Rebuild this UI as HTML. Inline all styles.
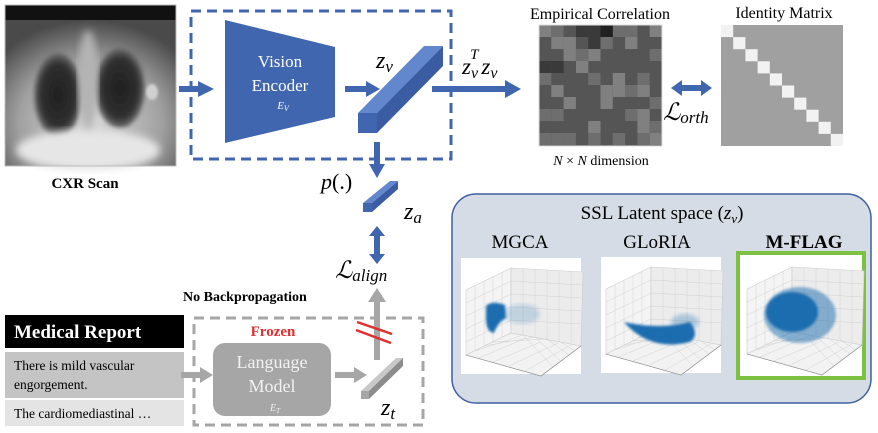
<!DOCTYPE html>
<html><head><meta charset="utf-8"><style>
html,body{margin:0;padding:0;background:#fff;}
svg{display:block;}
text{font-family:"Liberation Serif",serif;}
.m{font-style:italic;}
</style></head><body>
<svg width="878" height="433" viewBox="0 0 878 433" xmlns="http://www.w3.org/2000/svg">
<defs>
<radialGradient id="body" cx="50%" cy="70%" r="70%"><stop offset="0" stop-color="#dcdcdc"/><stop offset="0.6" stop-color="#a0a0a0"/><stop offset="1" stop-color="#4a4a4a"/></radialGradient>
<radialGradient id="lung" cx="50%" cy="50%" r="50%"><stop offset="0" stop-color="#202020"/><stop offset="0.75" stop-color="#303030"/><stop offset="1" stop-color="#707070"/></radialGradient>
<filter id="bl"><feGaussianBlur stdDeviation="2"/></filter>
<filter id="bl3"><feGaussianBlur stdDeviation="4"/></filter>
<filter id="bl2"><feGaussianBlur stdDeviation="1.2"/></filter>
<g id="axes">
<rect x="0" y="0" width="120" height="116" fill="#fff"/>
<polygon points="5,32 50,10 50,75 5,97" fill="#f4f4f4" stroke="#ccc" stroke-width="0.6"/>
<polygon points="50,10 122,14 120,88 50,75" fill="#ececec" stroke="#ccc" stroke-width="0.6"/>
<polygon points="5,97 50,75 120,88 80,118" fill="#f2f2f2" stroke="#ccc" stroke-width="0.6"/>
<g stroke="#d2d2d2" stroke-width="0.5" fill="none">
<path d="M5,45 L50,23 L122,27 M5,58 L50,36 L121,40 M5,71 L50,49 L121,53 M5,84 L50,62 L121,66"/>
<path d="M14,28 V93 M23,23 V88 M32,19 V84 M41,14 V80 M62,11 V77 M74,11 V79 M86,12 V81 M98,13 V83 M110,13 V85"/>
<path d="M14,93 L62,77 M23,88 L74,79 M32,84 L86,81 M62,77 L92,109 M74,79 L100,103 M86,81 L108,97 M98,83 L114,93 M18,100 L65,80 M32,104 L80,84 M48,108 L97,85 M64,113 L110,87"/>
</g>
<path d="M5,97 L80,118 L120,88" stroke="#888" stroke-width="0.6" fill="none"/>
</g>
</defs>

<!-- CXR -->
<rect x="5" y="5" width="171" height="161" fill="#111"/>
<rect x="5" y="20" width="171" height="146" fill="url(#body)"/>
<ellipse cx="58" cy="95" rx="24" ry="42" fill="url(#lung)" filter="url(#bl)"/>
<ellipse cx="120" cy="88" rx="25" ry="40" fill="url(#lung)" filter="url(#bl)"/>
<ellipse cx="88" cy="150" rx="72" ry="20" fill="#e6e6e6" filter="url(#bl3)"/>
<ellipse cx="88" cy="80" rx="10" ry="50" fill="#b4b4b4" filter="url(#bl3)"/>
<ellipse cx="152" cy="92" rx="6" ry="8" fill="#d0d0d0" filter="url(#bl2)"/>
<rect x="5" y="5" width="171" height="161" fill="none" stroke="#bbb" stroke-width="1"/>
<text x="85" y="188" font-size="15" font-weight="bold" text-anchor="middle">CXR Scan</text>

<!-- vision dashed box -->
<rect x="191" y="11" width="260" height="148" fill="none" stroke="#4166b0" stroke-width="3" stroke-dasharray="10,6"/>
<line x1="179" y1="89" x2="200" y2="89" stroke="#4166b0" stroke-width="6"/>
<polygon points="198,81 214,89 198,97" fill="#4166b0"/>
<polygon points="225,20 335,47 335,117 225,143" fill="#4166b0"/>
<text x="280" y="67" font-size="17" fill="#fff" text-anchor="middle">Vision</text>
<text x="280" y="91" font-size="17" fill="#fff" text-anchor="middle">Encoder</text>
<text x="283" y="109" font-size="11" fill="#fff" class="m" text-anchor="middle">E<tspan font-size="8" dy="2">V</tspan></text>
<line x1="345" y1="89" x2="368" y2="89" stroke="#4166b0" stroke-width="6"/>
<polygon points="366,81 380,89 366,97" fill="#4166b0"/>
<!-- z_v bar -->
<polygon points="358,113 424,46 443,46 377,113" fill="#6387cc"/>
<polygon points="377,113 443,46 443,66 377,133" fill="#3a5ca2"/>
<rect x="358" y="113" width="19" height="20" fill="#4166b0"/>
<text x="376" y="68" font-size="24" class="m">z<tspan font-size="17" dy="4">v</tspan></text>
<line x1="432" y1="89" x2="507" y2="89" stroke="#4166b0" stroke-width="6"/>
<polygon points="505,80 521,89 505,98" fill="#4166b0"/>
<text x="462" y="74" font-size="23" class="m">z<tspan font-size="16" dy="4">v</tspan><tspan font-size="15" dx="-8" dy="-19">T</tspan><tspan font-size="23" dx="3" dy="15">z</tspan><tspan font-size="16" dy="4">v</tspan></text>

<!-- p(.) and z_a -->
<line x1="377" y1="142" x2="377" y2="166" stroke="#4166b0" stroke-width="6"/>
<polygon points="369,164 377,178 385,164" fill="#4166b0"/>
<text x="321" y="189" font-size="22" class="m">p<tspan font-style="normal">(.)</tspan></text>
<polygon points="363,203 390,181 398,181 372,203" fill="#6387cc"/>
<polygon points="372,203 398,181 398,189 372,212" fill="#3a5ca2"/>
<rect x="363" y="203" width="9" height="9" fill="#4166b0"/>
<text x="404" y="219" font-size="24" class="m">z<tspan font-size="17" dy="4">a</tspan></text>
<line x1="377" y1="234" x2="377" y2="256" stroke="#4166b0" stroke-width="6"/>
<polygon points="369,236 377,226 385,236" fill="#4166b0"/>
<polygon points="369,254 377,264 385,254" fill="#4166b0"/>
<text x="335" y="278" font-size="24" class="m">ℒ<tspan font-size="17" dy="3">align</tspan></text>

<!-- no backprop -->
<text x="183" y="301" font-size="14" font-weight="bold">No Backpropagation</text>
<line x1="377" y1="360" x2="377" y2="300" stroke="#a6a6a6" stroke-width="6"/>
<polygon points="368,302 377,288 386,302" fill="#a6a6a6"/>
<line x1="357" y1="322" x2="392" y2="334" stroke="#e03030" stroke-width="2.5"/>
<line x1="356" y1="330" x2="391" y2="343" stroke="#e03030" stroke-width="2.5"/>

<!-- frozen box -->
<rect x="194" y="318" width="229" height="107" fill="none" stroke="#a6a6a6" stroke-width="3" stroke-dasharray="10,6"/>
<text x="273" y="336" font-size="15" font-weight="bold" fill="#e03030" text-anchor="middle">Frozen</text>
<rect x="213" y="343" width="118" height="73" rx="12" fill="#a6a6a6"/>
<text x="272" y="368" font-size="18" fill="#f2f2f2" text-anchor="middle">Language</text>
<text x="272" y="392" font-size="18" fill="#f2f2f2" text-anchor="middle">Model</text>
<text x="275" y="411" font-size="10" fill="#f2f2f2" class="m" text-anchor="middle">E<tspan font-size="7" dy="2">T</tspan></text>
<line x1="335" y1="375" x2="356" y2="375" stroke="#a6a6a6" stroke-width="6"/>
<polygon points="354,367 367,375 354,383" fill="#a6a6a6"/>
<polygon points="361,391 396,358 403,358 369,391" fill="#c8c8c8"/>
<polygon points="369,391 403,358 403,366 369,399" fill="#8c8c8c"/>
<rect x="361" y="391" width="8" height="8" fill="#a6a6a6"/>
<text x="381" y="415" font-size="24" class="m">z<tspan font-size="17" dy="4">t</tspan></text>

<!-- medical report -->
<rect x="5" y="315" width="179" height="33" fill="#000"/>
<text x="14" y="338" font-size="19" font-weight="bold" fill="#fff">Medical Report</text>
<rect x="5" y="352" width="179" height="46" fill="#c4c4c4"/>
<text x="14" y="370" font-size="13.5">There is mild vascular</text>
<text x="14" y="389" font-size="13.5">engorgement.</text>
<rect x="5" y="400" width="179" height="26" fill="#e4e4e4"/>
<text x="14" y="418" font-size="13.5">The cardiomediastinal …</text>
<line x1="181" y1="375" x2="202" y2="375" stroke="#a6a6a6" stroke-width="6"/>
<polygon points="200,367 213,375 200,383" fill="#a6a6a6"/>

<!-- empirical correlation -->
<text x="600" y="19" font-size="16" text-anchor="middle">Empirical Correlation</text>
<rect x="539" y="25" width="123" height="121" fill="#555"/>
<g fill="#808080"><rect x="539" y="25" width="12.3" height="12"/><rect x="649.7" y="25" width="12.3" height="12"/><rect x="551.3" y="37" width="12.3" height="12"/><rect x="563.6" y="37" width="12.3" height="12"/><rect x="625.1" y="37" width="12.3" height="12"/><rect x="563.6" y="49" width="12.3" height="12"/><rect x="588.2" y="49" width="12.3" height="12"/><rect x="576" y="61" width="12.3" height="12"/><rect x="612.8" y="73" width="12.3" height="12"/><rect x="551.3" y="85" width="12.3" height="12"/><rect x="600.5" y="85" width="12.3" height="12"/><rect x="612.8" y="85" width="12.3" height="12"/><rect x="637.4" y="85" width="12.3" height="12"/><rect x="563.6" y="97" width="12.3" height="12"/><rect x="600.5" y="97" width="12.3" height="12"/><rect x="637.4" y="109" width="12.3" height="12"/><rect x="588.2" y="121" width="12.3" height="12"/><rect x="637.4" y="121" width="12.3" height="12"/><rect x="649.7" y="133" width="12.3" height="12"/></g>
<g fill="#6e6e6e"><rect x="551.3" y="25" width="12.3" height="12"/><rect x="600.5" y="37" width="12.3" height="12"/><rect x="576" y="49" width="12.3" height="12"/><rect x="649.7" y="49" width="12.3" height="12"/><rect x="539" y="73" width="12.3" height="12"/><rect x="588.2" y="73" width="12.3" height="12"/><rect x="637.4" y="73" width="12.3" height="12"/><rect x="625.1" y="85" width="12.3" height="12"/><rect x="649.7" y="97" width="12.3" height="12"/><rect x="539" y="109" width="12.3" height="12"/><rect x="551.3" y="109" width="12.3" height="12"/><rect x="625.1" y="109" width="12.3" height="12"/><rect x="649.7" y="121" width="12.3" height="12"/><rect x="539" y="133" width="12.3" height="12"/><rect x="551.3" y="133" width="12.3" height="12"/><rect x="563.6" y="133" width="12.3" height="12"/><rect x="588.2" y="133" width="12.3" height="12"/><rect x="612.8" y="133" width="12.3" height="12"/><rect x="637.4" y="133" width="12.3" height="12"/><rect x="612.8" y="25" width="12.3" height="12"/><rect x="625.1" y="25" width="12.3" height="12"/></g>
<g fill="#3a3a3a"><rect x="576" y="25" width="12.3" height="12"/><rect x="588.2" y="25" width="12.3" height="12"/><rect x="539" y="61" width="12.3" height="12"/><rect x="551.3" y="61" width="12.3" height="12"/><rect x="588.2" y="37" width="12.3" height="12"/></g>
<rect x="600.5" y="25" width="12.3" height="12" fill="#202020"/>
<rect x="539" y="25" width="123" height="121" fill="none" stroke="#ddd" stroke-width="1"/>
<text x="601" y="165" font-size="14" text-anchor="middle"><tspan class="m">N</tspan> × <tspan class="m">N</tspan> dimension</text>

<!-- orth -->
<line x1="680" y1="88" x2="703" y2="88" stroke="#4166b0" stroke-width="6"/>
<polygon points="682,80 671,88 682,96" fill="#4166b0"/>
<polygon points="701,80 712,88 701,96" fill="#4166b0"/>
<text x="663" y="120" font-size="24" class="m">ℒ<tspan font-size="17" dy="3">orth</tspan></text>

<!-- identity -->
<text x="784" y="18" font-size="16" text-anchor="middle">Identity Matrix</text>
<rect x="721" y="25" width="122" height="121" fill="#a0a0a0"/>
<g fill="#f2f2f2">
<rect x="721" y="25" width="12.2" height="12.1"/><rect x="733.2" y="37.1" width="12.2" height="12.1"/><rect x="745.4" y="49.2" width="12.2" height="12.1"/><rect x="757.6" y="61.3" width="12.2" height="12.1"/><rect x="769.8" y="73.4" width="12.2" height="12.1"/><rect x="782" y="85.5" width="12.2" height="12.1"/><rect x="794.2" y="97.6" width="12.2" height="12.1"/><rect x="806.4" y="109.7" width="12.2" height="12.1"/><rect x="818.6" y="121.8" width="12.2" height="12.1"/><rect x="830.8" y="133.9" width="12.2" height="12.1"/>
</g>

<!-- SSL box -->
<rect x="452" y="194" width="419" height="209" rx="24" fill="#d6dce5" stroke="#3f5fa0" stroke-width="1.5"/>
<text x="662" y="219" font-size="19" text-anchor="middle">SSL Latent space (<tspan class="m">z</tspan><tspan class="m" font-size="13" dy="4">v</tspan><tspan dy="-4">)</tspan></text>
<text x="520" y="248" font-size="19" text-anchor="middle">MGCA</text>
<text x="657" y="248" font-size="19" text-anchor="middle">GLoRIA</text>
<text x="804" y="248" font-size="19" font-weight="bold" text-anchor="middle">M-FLAG</text>

<use href="#axes" x="461" y="258"/>
<g fill="#1f6db0">
<path d="M486,306 Q492,300 505,305 L506,318 Q498,322 494,333 Q486,332 486,318 Z" filter="url(#bl2)"/>
<ellipse cx="522" cy="314" rx="18" ry="10" opacity="0.2" filter="url(#bl)"/>
</g>
<use href="#axes" x="601" y="257"/>
<path d="M624,322 Q650,352 690,342 Q700,335 690,322 Q660,330 624,322 Z" fill="#1f6db0" filter="url(#bl2)"/>
<ellipse cx="685" cy="322" rx="14" ry="8" fill="#1f6db0" opacity="0.3" filter="url(#bl)"/>

<rect x="738" y="253" width="126" height="125" fill="#fff" stroke="#7dc142" stroke-width="4"/>
<use href="#axes" x="742" y="257"/>
<ellipse cx="800" cy="315" rx="36" ry="28" fill="#1f6db0" opacity="0.5" filter="url(#bl2)"/>
<ellipse cx="792" cy="312" rx="26" ry="20" fill="#1f6db0" filter="url(#bl2)"/>
</svg>
</body></html>
